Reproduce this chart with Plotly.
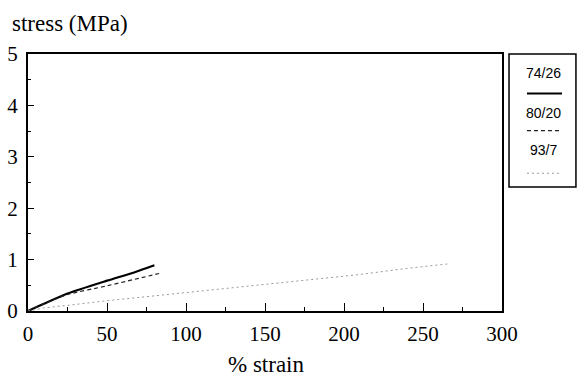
import plotly.graph_objects as go

# Data
x_7426 = [0, 10, 25, 50, 68, 80]
y_7426 = [0, 0.14, 0.34, 0.59, 0.76, 0.89]

x_8020 = [0, 10, 25, 50, 83]
y_8020 = [0, 0.14, 0.32, 0.49, 0.73]

x_937 = [0, 10, 25, 50, 88, 113, 147, 168, 210, 240, 267]
y_937 = [0, 0.06, 0.11, 0.20, 0.32, 0.40, 0.51, 0.59, 0.71, 0.83, 0.92]

series_names = ["74/26", "80/20", "93/7"]
x_ticks = [0, 50, 100, 150, 200, 250, 300]
y_ticks = [0, 1, 2, 3, 4, 5]

SERIF = "Liberation Serif"
SANS = "Liberation Sans"

fig = go.Figure()
fig.add_trace(go.Scatter(x=x_7426, y=y_7426, mode="lines", name=series_names[0],
                         line=dict(color="black", width=2.2, shape="spline", smoothing=0.6)))
fig.add_trace(go.Scatter(x=x_8020, y=y_8020, mode="lines", name=series_names[1],
                         line=dict(color="#222", width=1.2, dash="4px,3px", shape="spline", smoothing=0.6)))
fig.add_trace(go.Scatter(x=x_937, y=y_937, mode="lines", name=series_names[2],
                         line=dict(color="#999", width=1, dash="2px,3px")))

fig.update_layout(
    width=578, height=377,
    margin=dict(l=28, r=76, t=54, b=66, autoexpand=False),
    paper_bgcolor="white", plot_bgcolor="white",
    showlegend=False,
    font=dict(family=SERIF, color="black", size=21),
)

fig.update_xaxes(
    range=[0, 300], tickvals=x_ticks, ticktext=[str(v) for v in x_ticks],
    showgrid=False, zeroline=False, automargin=False,
    showline=True, linecolor="black", linewidth=2, mirror=True,
    ticks="inside", ticklen=8, tickwidth=1.3, tickcolor="black",
    minor=dict(dtick=25, ticks="inside", ticklen=4, tickwidth=1, tickcolor="black"),
    tickfont=dict(family=SERIF, size=21, color="black"),
    ticklabelstandoff=3,
)
fig.update_yaxes(
    range=[0, 5], tickvals=y_ticks, ticktext=[str(v) for v in y_ticks],
    showgrid=False, zeroline=False, automargin=False,
    showline=True, linecolor="black", linewidth=2, mirror=True,
    ticks="inside", ticklen=6, tickwidth=1.3, tickcolor="black",
    minor=dict(dtick=0.5, ticks="inside", ticklen=3, tickwidth=1, tickcolor="black"),
    tickfont=dict(family=SERIF, size=21, color="black"),
    ticklabelstandoff=4,
)

# Axis titles
fig.add_annotation(text="stress (MPa)", xref="paper", yref="paper", x=0.0876, y=1.12,
                   xanchor="center", yanchor="middle", showarrow=False,
                   font=dict(family=SERIF, size=23, color="black"))
fig.add_annotation(text="% strain", xref="paper", yref="paper", x=0.503, y=-0.208,
                   xanchor="center", yanchor="middle", showarrow=False,
                   font=dict(family=SERIF, size=23, color="black"))

# Custom legend box (text above sample line)
fig.add_shape(type="rect", xref="paper", yref="paper", x0=1.0148, x1=1.156, y0=0.4825, y1=1.0,
              line=dict(color="black", width=1.5), fillcolor="white", layer="above")
legend_text_y = [0.926, 0.772, 0.626]
legend_line_y = [0.846, 0.702, 0.536]
legend_styles = [dict(color="black", width=2), dict(color="#222", width=1.2, dash="4px,3px"),
                 dict(color="#999", width=1, dash="2px,3px")]
for name, ty, ly, st in zip(series_names, legend_text_y, legend_line_y, legend_styles):
    fig.add_annotation(text=name, xref="paper", yref="paper", x=1.0865, y=ty,
                       xanchor="center", yanchor="middle", showarrow=False,
                       font=dict(family=SANS, size=14, color="black"))
    fig.add_shape(type="line", xref="paper", yref="paper", x0=1.0527, x1=1.1266, y0=ly, y1=ly,
                  line=st)

fig.write_html("out.html")
